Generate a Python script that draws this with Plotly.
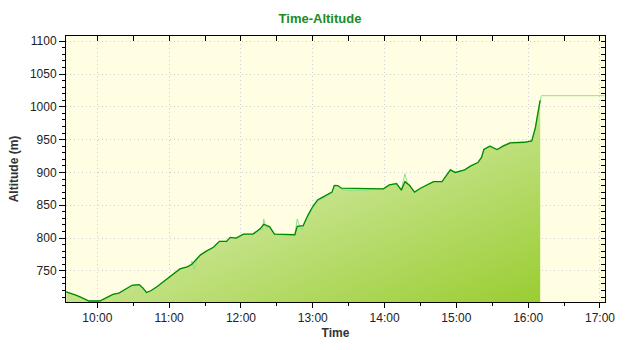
import plotly.graph_objects as go

DAY = "2020-01-01 "

# Smoothed altitude profile (dark green line with filled area)
track_time = ["09:34", "09:38", "09:42", "09:46", "09:50", "09:53", "10:02", "10:05", "10:09", "10:13",
              "10:18", "10:22", "10:26", "10:29", "10:35", "10:38", "10:41", "10:45", "10:50", "10:55",
              "11:00", "11:05", "11:09", "11:15", "11:19", "11:23", "11:26", "11:31", "11:37", "11:42",
              "11:48", "11:51", "11:56", "12:02", "12:10", "12:16", "12:19", "12:24", "12:28", "12:45",
              "12:47", "12:52", "12:56", "13:00", "13:04", "13:08", "13:12", "13:16", "13:18", "13:21",
              "13:24", "13:59", "14:04", "14:10", "14:14", "14:17", "14:21", "14:25", "14:30", "14:36",
              "14:41", "14:48", "14:55", "14:59", "15:07", "15:12", "15:18", "15:21", "15:23", "15:28",
              "15:34", "15:39", "15:45", "15:57", "16:03", "16:06", "16:08", "16:10"]
track_alt = [718, 716, 713, 710, 706, 704, 704, 707, 710, 714,
             716, 720, 724, 728, 729, 724, 717, 720, 726, 733,
             741, 748, 753, 756, 760, 768, 774, 780, 786, 795,
             795, 801, 800, 806, 806, 814, 821, 817, 806, 805,
             818, 819, 835, 848, 858, 862, 866, 870, 880, 880,
             876, 875, 881, 883, 873, 886, 880, 870, 876, 882,
             886, 886, 904, 900, 904, 910, 915, 923, 935, 940,
             935, 940, 945, 946, 948, 968, 990, 1010]

# Raw altitude readings (light green line)
raw_time = ["09:34", "09:38", "09:42", "09:46", "09:50", "09:53", "10:02", "10:05", "10:09", "10:13",
            "10:18", "10:22", "10:26", "10:29", "10:35", "10:38", "10:41", "10:45", "10:50", "10:55",
            "11:00", "11:05", "11:09", "11:15", "11:18", "11:19", "11:21", "11:23", "11:26", "11:31",
            "11:37", "11:42", "11:48", "11:51", "11:56", "12:02", "12:10", "12:16", "12:18", "12:19",
            "12:21", "12:24", "12:28", "12:45", "12:46", "12:47", "12:49", "12:51", "12:52", "12:54",
            "12:56", "13:00", "13:04", "13:08", "13:12", "13:16", "13:18", "13:21", "13:24", "13:30",
            "13:45", "13:59", "14:04", "14:10", "14:14", "14:16", "14:17", "14:19", "14:21", "14:25",
            "14:30", "14:36", "14:41", "14:48", "14:55", "14:59", "15:07", "15:12", "15:18", "15:21",
            "15:23", "15:28", "15:34", "15:39", "15:45", "15:57", "16:03", "16:06", "16:08", "16:10",
            "16:11", "17:04"]
raw_alt = [718, 716, 713, 710, 706, 704, 704, 707, 710, 714,
           716, 720, 724, 728, 729, 724, 717, 720, 726, 733,
           741, 748, 753, 756, 758, 765, 752, 768, 774, 780,
           786, 795, 795, 801, 800, 806, 806, 814, 812, 829,
           815, 817, 806, 805, 822, 829, 818, 812, 819, 826,
           832, 846, 856, 860, 864, 868, 881, 880, 874, 872,
           873, 875, 881, 884, 874, 888, 898, 884, 880, 870,
           876, 882, 886, 886, 905, 899, 904, 910, 915, 923,
           936, 941, 934, 941, 946, 946, 948, 968, 991, 1010,
           1017, 1017]

x_track = [DAY + t for t in track_time]
x_raw = [DAY + t for t in raw_time]

X_RANGE = [DAY + "09:33:48", DAY + "17:04:12"]
Y_RANGE = [702.5, 1108]

LIGHT = "rgba(240,248,224,1)"
DARK = "rgba(154,205,50,1)"

fig = go.Figure()

# Horizontal gradient layer
fig.add_trace(go.Scatter(
    x=x_track, y=track_alt, mode="lines", line=dict(width=0),
    fill="tozeroy",
    fillgradient=dict(type="horizontal", colorscale=[[0, LIGHT], [1, DARK]]),
    hoverinfo="skip", showlegend=False))
# Vertical gradient layer (semi transparent) -> diagonal look
fig.add_trace(go.Scatter(
    x=x_track, y=track_alt, mode="lines", line=dict(width=0),
    fill="tozeroy",
    fillgradient=dict(type="vertical", start=702, stop=1010,
                      colorscale=[[0, "rgba(154,205,50,0.5)"], [1, "rgba(240,248,224,0.5)"]]),
    hoverinfo="skip", showlegend=False))
# Raw line
fig.add_trace(go.Scatter(
    x=x_raw, y=raw_alt, mode="lines", line=dict(color="#8fe08f", width=1),
    showlegend=False))
# Smoothed line on overlay axes (drawn on top)
fig.add_trace(go.Scatter(
    x=x_track, y=track_alt, mode="lines", line=dict(color="#008a00", width=1.3),
    xaxis="x2", yaxis="y2", showlegend=False))

tickfont = dict(family="Liberation Sans, Arial, sans-serif", size=12, color="#222222")
GRID = "#cfcfcf"

fig.update_layout(
    width=640, height=350,
    margin=dict(l=66, r=35, t=36, b=48),
    paper_bgcolor="white",
    plot_bgcolor="#fffee3",
    title=dict(text="<b>Time-Altitude</b>", x=0.5, xanchor="center", y=1 - 18 / 350, yanchor="middle",
               font=dict(family="Liberation Sans, Arial, sans-serif", size=13, color="#1c8c1c")),
    xaxis=dict(
        type="date", range=X_RANGE, dtick=3600000, tick0=DAY + "00:00", tickformat="%H:%M",
        showline=True, linecolor="black", linewidth=1,
        ticks="outside", ticklen=5, tickcolor="black",
        minor=dict(dtick=1800000, ticks="outside", ticklen=3, tickcolor="black", showgrid=False),
        showgrid=True, gridcolor=GRID, griddash="1px,3px", gridwidth=1,
        zeroline=False, tickfont=tickfont,
        title=dict(text="<b>Time</b>", standoff=4,
                   font=dict(family="Liberation Sans, Arial, sans-serif", size=12, color="#333333")),
    ),
    yaxis=dict(
        range=Y_RANGE, dtick=50, tick0=0,
        showline=True, linecolor="black", linewidth=1,
        ticks="outside", ticklen=6, tickcolor="black",
        minor=dict(dtick=10, ticks="outside", ticklen=3, tickcolor="black", showgrid=False),
        showgrid=True, gridcolor=GRID, griddash="1px,3px", gridwidth=1,
        zeroline=False, tickfont=tickfont,
        title=dict(text="<b>Altitude (m)</b>", standoff=8,
                   font=dict(family="Liberation Sans, Arial, sans-serif", size=12, color="#333333")),
    ),
    xaxis2=dict(
        type="date", range=X_RANGE, overlaying="x", side="top", anchor="y2",
        dtick=1800000, tick0=DAY + "00:00",
        showline=True, linecolor="black", linewidth=1,
        ticks="inside", ticklen=5, tickcolor="black",
        showticklabels=False, showgrid=False, zeroline=False,
    ),
    yaxis2=dict(
        range=Y_RANGE, overlaying="y", side="right", anchor="x2",
        dtick=10, tick0=0,
        showline=True, linecolor="black", linewidth=1,
        ticks="inside", ticklen=4, tickcolor="black",
        showticklabels=False, showgrid=False, zeroline=False,
    ),
)

fig.write_html("out.html")
